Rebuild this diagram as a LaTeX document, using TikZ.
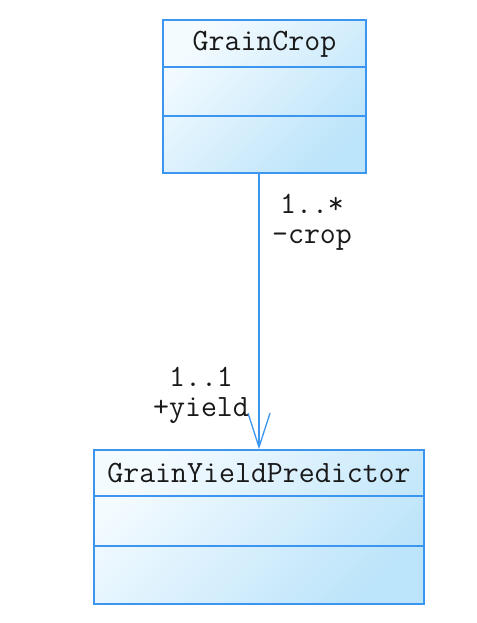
\documentclass[tikz,border=0pt]{standalone}
\usetikzlibrary{arrows.meta}
\definecolor{umlblue}{RGB}{60,150,240}
\definecolor{filltop}{RGB}{244,251,255}
\definecolor{fillbot}{RGB}{188,228,250}
\definecolor{txt}{RGB}{25,25,25}
\tikzset{
  classbox/.style={draw=umlblue, line width=1.5pt, rectangle, inner sep=0pt,
    top color=filltop, bottom color=fillbot, shading angle=45},
  divider/.style={draw=umlblue, line width=1.5pt},
  label/.style={font=\fontsize{31}{30}\selectfont\ttfamily, text=txt, inner sep=0pt, align=center},
  assoc/.style={draw=umlblue, line width=1.3pt, -{Straight Barb[length=34pt,width=22pt,line width=1.3pt]}}
}
\begin{document}
\begin{tikzpicture}[x=1pt,y=1pt]
\useasboundingbox[fill=white] (0,0) rectangle (476,623);
% GrainCrop
\node[classbox, minimum width=203pt, minimum height=153pt] (crop) at (264.5,526.5) {};
\draw[divider] (crop.west |- 0,556) -- (crop.east |- 0,556);
\draw[divider] (crop.west |- 0,507) -- (crop.east |- 0,507);
\node[label] (cropname) at (264.5,579) {GrainCrop};
% GrainYieldPredictor
\node[classbox, minimum width=330pt, minimum height=154pt] (pred) at (259,96) {};
\draw[divider] (pred.west |- 0,127) -- (pred.east |- 0,127);
\draw[divider] (pred.west |- 0,77) -- (pred.east |- 0,77);
\node[label] (predname) at (259,150) {GrainYieldPredictor};
% association
\draw[assoc] (crop.south -| pred.north) -- (pred.north);
\node[label] (cropend) at (312,401) {1..*\\-crop};
\node[label] (predend) at (201,228) {1..1\\+yield};
\end{tikzpicture}
\end{document}
